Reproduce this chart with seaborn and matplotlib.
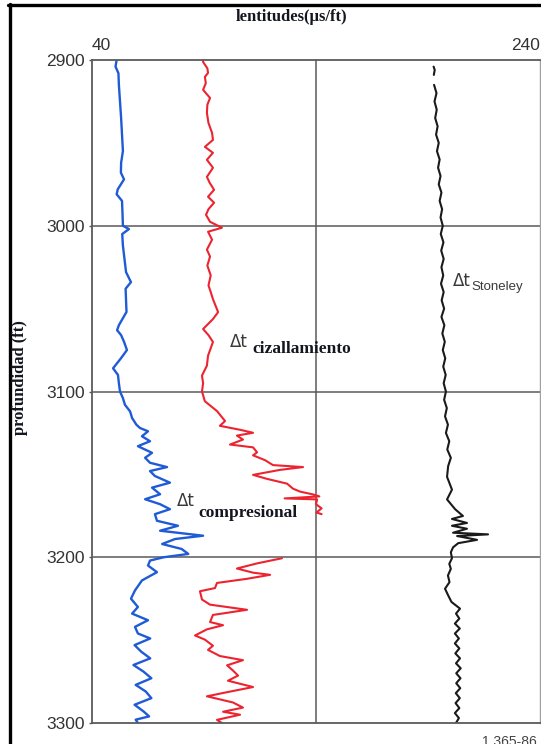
import matplotlib
matplotlib.use("Agg")
import matplotlib.pyplot as plt
from matplotlib.lines import Line2D
import seaborn as sns

# Sonic log: slowness (µs/ft) versus depth (ft)
depth_comp = [2900, 2904, 2908, 2915, 2925, 2935, 2945, 2955, 2962, 2968, 2972, 2978, 2981,
              2985, 2992, 3000, 3002, 3005, 3012, 3020, 3028, 3034, 3038, 3045, 3052, 3060,
              3063, 3066, 3070, 3075, 3080, 3086, 3090, 3095, 3100, 3104, 3108, 3112, 3116,
              3120, 3122, 3124, 3127, 3130, 3133, 3137, 3140, 3143, 3145.6, 3148, 3151, 3155,
              3158, 3162, 3165, 3168, 3171, 3174, 3178, 3181, 3184, 3187, 3189, 3192, 3195,
              3198, 3200, 3202, 3205, 3209, 3214, 3220, 3225, 3230, 3234, 3238, 3242, 3246,
              3249, 3253, 3257, 3261, 3265, 3269, 3273, 3277, 3281, 3285, 3289, 3293, 3296,
              3298, 3300]
dt_comp = [51.0, 50.5, 51.8, 52.0, 52.5, 53.0, 53.4, 53.8, 53.0, 52.9, 54.3, 51.5, 51.0,
           53.4, 53.6, 53.8, 56.5, 53.5, 53.8, 54.5, 55.2, 57.4, 55.0, 55.2, 55.4, 52.0,
           51.2, 53.0, 54.3, 55.6, 52.9, 49.4, 51.6, 52.0, 52.5, 53.8, 54.7, 57.0, 57.9,
           59.8, 61.4, 65.0, 62.3, 65.9, 60.5, 66.8, 63.7, 65.9, 73.5, 65.9, 68.1, 74.8,
           66.8, 70.4, 63.7, 70.4, 74.8, 68.1, 69.0, 78.4, 70.4, 89.6, 77.1, 71.3, 80.0,
           83.0, 72.0, 65.9, 65.0, 69.0, 62.3, 59.2, 57.4, 60.5, 57.9, 65.0, 59.2, 60.5,
           66.0, 59.0, 62.0, 66.0, 58.5, 63.0, 66.5, 59.5, 64.0, 66.5, 59.0, 63.0, 65.5,
           59.5, 60.5]

depth_shear_upper = [2900, 2901.2, 2905, 2907.8, 2910.2, 2914, 2918, 2922.9, 2927, 2931.9, 2938,
                     2944, 2948.2, 2952.4, 2956, 2960.2, 2965, 2970.5, 2974, 2978.3, 2982.5,
                     2986.1, 2990, 2993.4, 2997.6, 3001.2, 3003.6, 3008.4, 3014.4, 3018.6, 3024,
                     3030, 3036, 3040, 3044.3, 3052.1, 3056.3, 3062.3, 3066, 3070.1, 3078.4,
                     3084.4, 3090.4, 3095, 3100, 3105.9, 3111.8, 3117.8, 3120.7, 3123.1, 3124.9,
                     3126.6, 3129, 3132, 3133.7, 3136.7, 3138.5, 3141.4, 3144.4, 3145.6, 3147.3,
                     3150.3, 3152.7, 3155.6, 3158.6, 3160.4, 3162.1, 3163.3, 3164.5, 3165.1,
                     3168, 3170.5, 3173, 3174]
dt_shear_upper = [89.6, 89.6, 91.5, 91.8, 90.4, 90.8, 89.6, 92.7, 91.5, 91.3, 92.0,
                  93.6, 94.0, 90.4, 94.0, 91.3, 94.0, 91.3, 92.5, 94.5, 91.8,
                  94.5, 92.0, 90.9, 92.7, 98.0, 91.8, 93.6, 91.3, 92.7, 91.5,
                  93.0, 92.0, 93.0, 94.0, 96.3, 94.0, 89.6, 92.0, 94.0, 91.8,
                  91.3, 89.1, 89.6, 89.1, 90.4, 95.8, 99.4, 97.1, 106.1, 111.9,
                  104.7, 107.4, 101.6, 111.9, 113.7, 111.9, 117.2, 120.8, 134.2, 123.9,
                  111.9, 118.1, 127.1, 129.7, 132.9, 138.7, 141.5, 126.0, 140.5,
                  140.0, 142.5, 140.2, 142.5]

depth_shear_lower = [3200.6, 3203.7, 3206.8, 3209.3, 3210.6, 3213, 3215.5, 3218.6, 3220.5,
                     3225.5, 3228.6, 3231.7, 3234.8, 3239.1, 3241, 3243.5, 3247.2, 3249.7,
                     3253.4, 3255.9, 3259.6, 3262.1, 3265.2, 3268.3, 3271.4, 3274.5, 3278.3,
                     3281.4, 3283.9, 3287.6, 3290.7, 3293.2, 3295, 3298.1, 3300]
dt_shear_lower = [124.8, 113.7, 104.7, 111.9, 119.5, 109.2, 95.8, 94.9, 88.2,
                  89.1, 92.7, 109.2, 94.0, 92.7, 98.5, 91.3, 86.0, 90.4,
                  94.0, 91.8, 97.1, 107.4, 100.3, 102.9, 105.2, 100.7, 111.9,
                  100.3, 91.3, 102.9, 107.4, 98.5, 106.1, 95.8, 98.0]

depth_st_mark = [2904, 2906, 2909]
dt_st_mark = [192.5, 193.0, 192.6]

depth_st = [2915, 2920, 2925, 2930, 2935, 2940, 2945, 2950, 2955, 2960, 2965, 2970, 2975,
            2980, 2985, 2990, 2995, 3000, 3005, 3010, 3015, 3020, 3025, 3030, 3035, 3040,
            3045, 3050, 3055, 3060, 3065, 3070, 3075, 3080, 3085, 3090, 3095, 3100, 3105,
            3110, 3115, 3120, 3125, 3130, 3135, 3140, 3145, 3151.5, 3159.2, 3165.1, 3171,
            3175.1, 3176.9, 3179.3, 3181, 3182.8, 3185.2, 3186.2, 3187.2, 3189.5, 3191.5,
            3194, 3197, 3200.6, 3204, 3207, 3211, 3215, 3219, 3223, 3227, 3231, 3234, 3237,
            3240, 3243, 3246, 3249, 3252, 3255, 3258, 3261, 3264, 3267, 3270, 3273, 3276,
            3279, 3282, 3285, 3288, 3291, 3294, 3297, 3300]
dt_st = [192.7, 193.8, 192.9, 193.9, 193.2, 194.3, 193.6, 194.8, 194.0, 195.2, 194.5, 195.6, 194.8,
         196.0, 195.2, 196.3, 195.6, 196.6, 195.7, 196.9, 195.9, 197.0, 196.0, 196.8, 195.8, 197.0,
         196.1, 197.2, 196.0, 197.3, 196.4, 197.5, 196.6, 197.7, 196.8, 197.9, 197.0, 198.0, 197.2,
         198.4, 197.6, 198.9, 198.0, 199.5, 198.6, 200.2, 199.0, 198.5, 200.7, 198.5, 202.1,
         205.6, 200.7, 207.4, 200.7, 207.4, 201.2, 216.8, 203.0, 211.9, 203.5,
         201.2, 200.2, 200.7, 199.5, 200.2, 198.9, 199.6, 197.6, 199.0, 200.5, 204.3, 202.5, 204.0,
         202.0, 204.2, 202.0, 203.8, 202.0, 204.0, 202.2, 204.3, 202.5, 204.6, 202.6, 204.5, 202.6,
         204.4, 202.4, 204.2, 202.3, 204.0, 202.0, 203.8, 202.5]

depth_ticks = [2900, 3000, 3100, 3200, 3300]
slowness_ticks = [40, 240]

sns.set_theme(style="white")
plt.rcParams["font.family"] = ["Liberation Sans", "DejaVu Sans"]

W, H = 541, 744
fig = plt.figure(figsize=(W / 100, H / 100), dpi=100)
fig.patch.set_facecolor("white")
ax = fig.add_axes([92 / W, 1 - 723 / H, 448 / W, 663 / H])
ax.set_facecolor("white")

blue = "#1f5bd6"
red = "#ec2430"
black = "#1a1a1a"

sns.lineplot(x=dt_comp, y=depth_comp, sort=False, estimator=None, orient="y",
             color=blue, lw=1.7, ax=ax)
sns.lineplot(x=dt_shear_upper, y=depth_shear_upper, sort=False, estimator=None, orient="y",
             color=red, lw=1.5, ax=ax)
sns.lineplot(x=dt_shear_lower, y=depth_shear_lower, sort=False, estimator=None, orient="y",
             color=red, lw=1.5, ax=ax)
sns.lineplot(x=dt_st_mark, y=depth_st_mark, sort=False, estimator=None, orient="y",
             color=black, lw=1.5, ax=ax)
sns.lineplot(x=dt_st, y=depth_st, sort=False, estimator=None, orient="y",
             color=black, lw=1.5, ax=ax)

ax.set_xlim(40, 240)
ax.set_ylim(3300, 2900)

# grid: one vertical divider at mid-scale, horizontal every 100 ft
grid_c = "#5a5a5a"
ax.axvline(140, color=grid_c, lw=1.1, zorder=0)
for d in depth_ticks[1:-1]:
    ax.axhline(d, color=grid_c, lw=1.1, zorder=0)

for side in ["left", "top", "bottom"]:
    ax.spines[side].set_color(grid_c)
    ax.spines[side].set_linewidth(1.3)
ax.spines["right"].set_color("#a0a0a0")
ax.spines["right"].set_linewidth(1.0)

ax.set_yticks(depth_ticks)
ax.set_yticklabels([str(d) for d in depth_ticks])
ax.xaxis.tick_top()
ax.set_xticks(slowness_ticks)
ax.set_xticklabels([str(s) for s in slowness_ticks])
ax.tick_params(axis="y", length=2, width=1, color=grid_c, pad=3, labelsize=12.5,
               labelcolor="#333333", left=True)
ax.tick_params(axis="x", length=0, pad=5, labelsize=12.5, labelcolor="#333333",
               top=True, bottom=False, labeltop=True, labelbottom=False)
xl = ax.get_xticklabels()
xl[0].set_ha("left")
xl[1].set_ha("right")
ax.set_xlabel("")
ax.set_ylabel("")

serif = ["Liberation Serif", "DejaVu Serif"]
label_c = "#14161f"
fig.text(292 / W, 1 - 17 / H, "lentitudes(µs/ft)", ha="center", va="center",
         family=serif, fontweight="bold", fontsize=12, color=label_c)
fig.text(20 / W, 1 - 378 / H, "profundidad (ft)", ha="center", va="center", rotation=90,
         family=serif, fontweight="bold", fontsize=12, color=label_c)

# curve annotations
dt_c = "#3a3a3a"
ax.text(101.6, 3070, "Δt", ha="left", va="center", fontsize=12, color=dt_c,
        family=["DejaVu Sans"])
ax.text(111.4, 3074.3, "cizallamiento", ha="left", va="center", fontsize=12.5,
        family=serif, fontweight="bold", color=label_c)
ax.text(77.9, 3166.3, "Δt", ha="left", va="center", fontsize=12, color=dt_c,
        family=["DejaVu Sans"])
ax.text(87.3, 3173.4, "compresional", ha="left", va="center", fontsize=12.5,
        family=serif, fontweight="bold", color=label_c)
ax.text(201.2, 3033.5, "Δt", ha="left", va="center", fontsize=12, color=dt_c,
        family=["DejaVu Sans"])
ax.text(209.2, 3037.1, "Stoneley", ha="left", va="center", fontsize=9.5, color=dt_c)

fig.text(537 / W, 1 - 735 / H, "1,365-86", ha="right", va="top", fontsize=10, color="#444444")

# black border on top and left of the sheet
fig.add_artist(Line2D([8 / W, 1.0], [1 - 5 / H, 1 - 5 / H], transform=fig.transFigure,
                      color="black", lw=2.4))
fig.add_artist(Line2D([9.5 / W, 9.5 / W], [0.0, 1 - 4 / H], transform=fig.transFigure,
                      color="black", lw=2.4))

fig.savefig("out.png", dpi=100, facecolor="white")
